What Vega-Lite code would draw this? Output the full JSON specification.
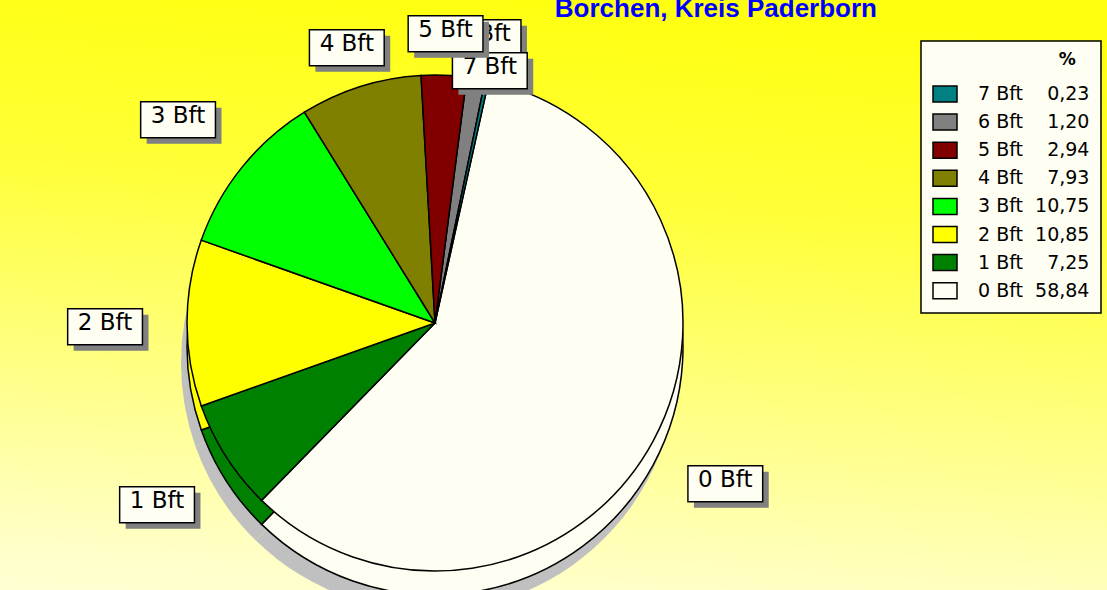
{
  "$schema": "https://vega.github.io/schema/vega-lite/v6.json",
  "width": 1344,
  "height": 646,
  "autosize": {"type": "none"},
  "padding": {"left": -237, "top": 0, "right": 0, "bottom": -56},
  "background": "#FFFF60",
  "title": {
    "text": "Borchen, Kreis Paderborn",
    "font": "Liberation Sans",
    "fontSize": 26,
    "fontWeight": "bold",
    "color": "#0000FF",
    "anchor": "end",
    "frame": "group",
    "orient": "bottom",
    "baseline": "alphabetic",
    "offset": 0,
    "dx": -230,
    "dy": -629
  },
  "config": {
    "view": {"stroke": null},
    "legend": {"strokeWidth": 1.5}
  },
  "data": {
    "values": [
      {"bft": "0 Bft", "pct": 58.84, "legend": "0 Bft\u00a0\u00a058,84"},
      {"bft": "1 Bft", "pct": 7.25, "legend": "1 Bft\u00a0\u00a0\u20077,25"},
      {"bft": "2 Bft", "pct": 10.85, "legend": "2 Bft\u00a0\u00a010,85"},
      {"bft": "3 Bft", "pct": 10.75, "legend": "3 Bft\u00a0\u00a010,75"},
      {"bft": "4 Bft", "pct": 7.93, "legend": "4 Bft\u00a0\u00a0\u20077,93"},
      {"bft": "6 Bft", "pct": 1.20, "legend": "6 Bft\u00a0\u00a0\u20071,20"},
      {"bft": "5 Bft", "pct": 2.94, "legend": "5 Bft\u00a0\u00a0\u20072,94"},
      {"bft": "7 Bft", "pct": 0.23, "legend": "7 Bft\u00a0\u00a0\u20070,23"}
    ]
  },
  "encoding": {
    "theta": {"field": "pct", "type": "quantitative", "stack": true, "scale": {"range": [0.2182, 6.5014]}},
    "order": {"field": "bft", "type": "ordinal", "sort": "ascending"}
  },
  "layer": [
    {
      "data": {"values": [{"bg": 1}]},
      "mark": {
        "type": "rect",
        "fill": {
          "gradient": "linear",
          "x1": 0.6, "y1": 0, "x2": 0.45, "y2": 1,
          "stops": [
            {"offset": 0, "color": "#FFFF10"},
            {"offset": 0.3, "color": "#FFFF38"},
            {"offset": 0.9, "color": "#FFFFCC"},
            {"offset": 1, "color": "#FFFFD4"}
          ]
        }
      },
      "encoding": {}
    },
    {
      "mark": {"type": "arc", "radius": 248, "fill": "#C0C0C0", "yOffset": 40, "xOffset": -6}
    },
    {
      "mark": {"type": "arc", "radius": 248, "stroke": "black", "strokeWidth": 1.5, "yOffset": 24},
      "encoding": {
        "color": {
          "field": "legend", "type": "nominal",
          "scale": {
            "domain": ["7 Bft\u00a0\u00a0\u20070,23", "6 Bft\u00a0\u00a0\u20071,20", "5 Bft\u00a0\u00a0\u20072,94", "4 Bft\u00a0\u00a0\u20077,93", "3 Bft\u00a0\u00a010,75", "2 Bft\u00a0\u00a010,85", "1 Bft\u00a0\u00a0\u20077,25", "0 Bft\u00a0\u00a058,84"],
            "range": ["#008080", "#808080", "#800000", "#808000", "#00FF00", "#FFFF00", "#008000", "#FFFEF2"]
          },
          "legend": {
            "title": "%\u2800",
            "orient": "none", "legendX": 1158, "legendY": 41,
            "direction": "vertical",
            "symbolType": "M-1,-0.667H1V0.667H-1Z", "symbolSize": 576,
            "symbolStrokeColor": "black", "symbolStrokeWidth": 1.5, "symbolOpacity": 1,
            "labelFont": "DejaVu Sans", "labelFontSize": 19, "labelColor": "black",
            "labelOffset": 20, "labelLimit": 300,
            "rowPadding": 3.1, "padding": 11,
            "fillColor": "#FFFEF2", "strokeColor": "black", "cornerRadius": 0,
            "titleFont": "DejaVu Sans", "titleFontSize": 17, "titleFontWeight": "bold", "titleColor": "black",
            "titleAnchor": "end", "titlePadding": 12
          }
        }
      }
    },
    {
      "mark": {"type": "arc", "radius": 248, "stroke": "black", "strokeWidth": 1.5},
      "encoding": {"color": {"field": "legend", "type": "nominal"}}
    },
    {
      "mark": {"type": "text", "radius": 293, "font": "DejaVu Sans", "fontSize": 98, "fill": "#808080", "dx": 6, "dy": 6, "baseline": "middle"},
      "encoding": {"text": {"value": "▬"}, "opacity": {"condition": {"test": "datum.bft == '6 Bft'", "value": 1}, "value": 0}}
    },
    {
      "mark": {"type": "text", "radius": 293, "font": "DejaVu Sans", "fontSize": 98, "fill": "#FFFEF2", "stroke": "black", "strokeWidth": 1.5, "baseline": "middle"},
      "encoding": {"text": {"value": "▬"}, "opacity": {"condition": {"test": "datum.bft == '6 Bft'", "value": 1}, "value": 0}}
    },
    {
      "mark": {"type": "text", "radius": 293, "font": "DejaVu Sans", "fontSize": 23, "fill": "black", "baseline": "middle"},
      "encoding": {"text": {"field": "bft"}, "opacity": {"condition": {"test": "datum.bft == '6 Bft'", "value": 1}, "value": 0}}
    },
    {
      "mark": {"type": "text", "radius": 262, "font": "DejaVu Sans", "fontSize": 98, "fill": "#808080", "dx": 6, "dy": 6, "baseline": "middle"},
      "encoding": {"text": {"value": "▬"}, "opacity": {"condition": {"test": "datum.bft == '7 Bft'", "value": 1}, "value": 0}}
    },
    {
      "mark": {"type": "text", "radius": 262, "font": "DejaVu Sans", "fontSize": 98, "fill": "#FFFEF2", "stroke": "black", "strokeWidth": 1.5, "baseline": "middle"},
      "encoding": {"text": {"value": "▬"}, "opacity": {"condition": {"test": "datum.bft == '7 Bft'", "value": 1}, "value": 0}}
    },
    {
      "mark": {"type": "text", "radius": 262, "font": "DejaVu Sans", "fontSize": 23, "fill": "black", "baseline": "middle"},
      "encoding": {"text": {"field": "bft"}, "opacity": {"condition": {"test": "datum.bft == '7 Bft'", "value": 1}, "value": 0}}
    },
    {
      "mark": {"type": "text", "radius": 293, "font": "DejaVu Sans", "fontSize": 98, "fill": "#808080", "dx": 6, "dy": 6, "baseline": "middle"},
      "encoding": {"text": {"value": "▬"}, "opacity": {"condition": {"test": "datum.bft == '4 Bft' || datum.bft == '5 Bft'", "value": 1}, "value": 0}}
    },
    {
      "mark": {"type": "text", "radius": 293, "font": "DejaVu Sans", "fontSize": 98, "fill": "#FFFEF2", "stroke": "black", "strokeWidth": 1.5, "baseline": "middle"},
      "encoding": {"text": {"value": "▬"}, "opacity": {"condition": {"test": "datum.bft == '4 Bft' || datum.bft == '5 Bft'", "value": 1}, "value": 0}}
    },
    {
      "mark": {"type": "text", "radius": 293, "font": "DejaVu Sans", "fontSize": 23, "fill": "black", "baseline": "middle"},
      "encoding": {"text": {"field": "bft"}, "opacity": {"condition": {"test": "datum.bft == '4 Bft' || datum.bft == '5 Bft'", "value": 1}, "value": 0}}
    },
    {
      "mark": {"type": "text", "radius": 330, "font": "DejaVu Sans", "fontSize": 98, "fill": "#808080", "dx": 6, "dy": 6, "baseline": "middle"},
      "encoding": {"text": {"value": "▬"}, "opacity": {"condition": {"test": "datum.bft <= '3 Bft'", "value": 1}, "value": 0}}
    },
    {
      "mark": {"type": "text", "radius": 330, "font": "DejaVu Sans", "fontSize": 98, "fill": "#FFFEF2", "stroke": "black", "strokeWidth": 1.5, "baseline": "middle"},
      "encoding": {"text": {"value": "▬"}, "opacity": {"condition": {"test": "datum.bft <= '3 Bft'", "value": 1}, "value": 0}}
    },
    {
      "mark": {"type": "text", "radius": 330, "font": "DejaVu Sans", "fontSize": 23, "fill": "black", "baseline": "middle"},
      "encoding": {"text": {"field": "bft"}, "opacity": {"condition": {"test": "datum.bft <= '3 Bft'", "value": 1}, "value": 0}}
    }
  ]
}
